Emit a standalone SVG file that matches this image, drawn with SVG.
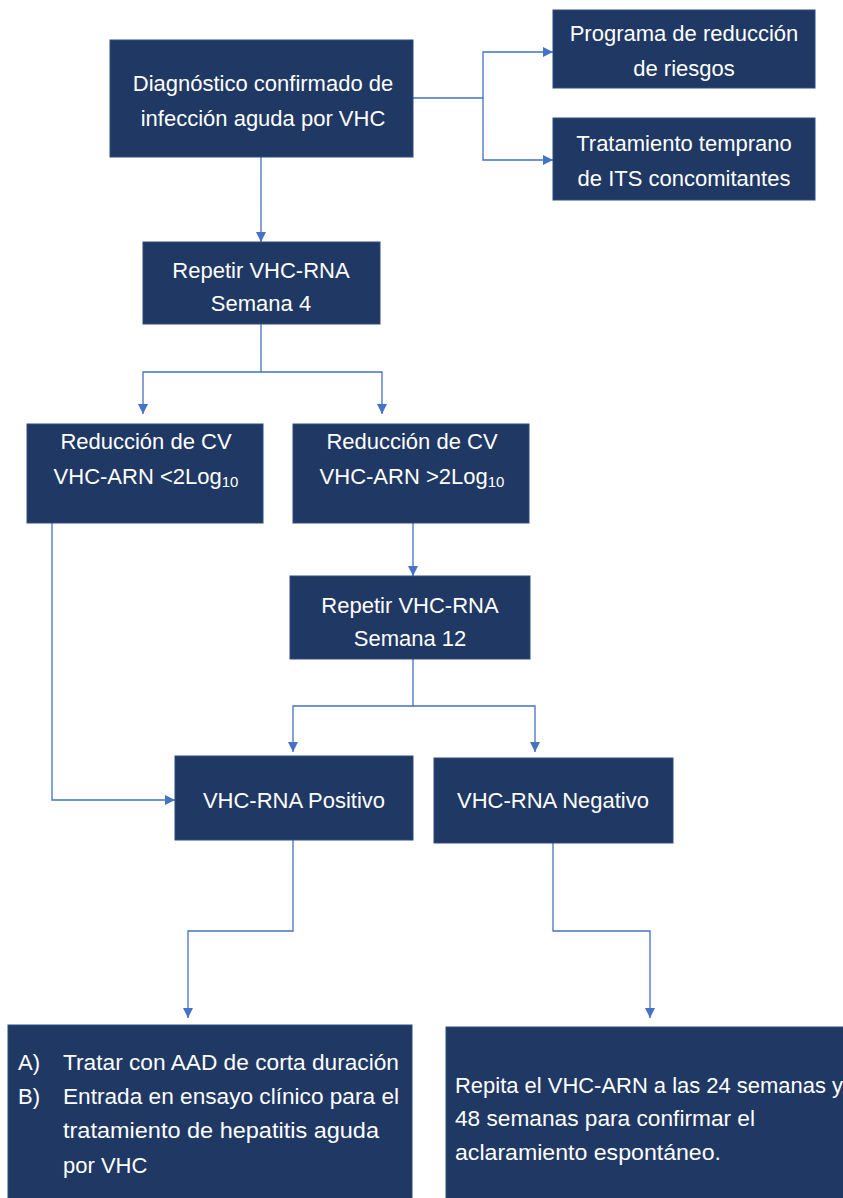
<svg xmlns="http://www.w3.org/2000/svg" width="843" height="1198" viewBox="0 0 843 1198">
<style>
.box{fill:#203864;stroke:#2f4d80;stroke-width:1}
.t{font-family:"Liberation Sans",Arial,sans-serif;font-size:22px;fill:#ffffff}
.c{text-anchor:middle}
.ln{fill:none;stroke:#4472C4;stroke-width:1.3}
</style>
<defs>
<marker id="ah" viewBox="0 0 10 10" refX="10" refY="5" markerWidth="10" markerHeight="10" markerUnits="userSpaceOnUse" orient="auto">
<path d="M0,0 L10,5 L0,10 z" fill="#4472C4"/>
</marker>
</defs>
<rect width="843" height="1198" fill="#ffffff"/>
<g id="connectors">
<path class="ln" d="M413,98 H483 V52 H553" marker-end="url(#ah)"/>
<path class="ln" d="M483,98 V160 H553" marker-end="url(#ah)"/>
<path class="ln" d="M261,157 V242" marker-end="url(#ah)"/>
<path class="ln" d="M261,324 V372 H143 V414" marker-end="url(#ah)"/>
<path class="ln" d="M261,372 H382 V414" marker-end="url(#ah)"/>
<path class="ln" d="M413,523 V576" marker-end="url(#ah)"/>
<path class="ln" d="M413,659 V706 H293 V752" marker-end="url(#ah)"/>
<path class="ln" d="M413,706 H535 V752" marker-end="url(#ah)"/>
<path class="ln" d="M52,523 V800 H175" marker-end="url(#ah)"/>
<path class="ln" d="M293,840 V931 H188 V1018" marker-end="url(#ah)"/>
<path class="ln" d="M553,843 V931 H650 V1018" marker-end="url(#ah)"/>
</g>
<g id="n1">
<rect class="box" x="110" y="40" width="303" height="117"/>
<text class="t c" x="263" y="91">Diagnóstico confirmado de</text>
<text class="t c" x="263" y="126">infección  aguda por VHC</text>
</g>
<g id="n2">
<rect class="box" x="553" y="10" width="262" height="78"/>
<text class="t c" x="684" y="41">Programa de reducción</text>
<text class="t c" x="684" y="76">de riesgos</text>
</g>
<g id="n3">
<rect class="box" x="553" y="118" width="262" height="82"/>
<text class="t c" x="684" y="151">Tratamiento temprano</text>
<text class="t c" x="684" y="186">de ITS concomitantes</text>
</g>
<g id="n4">
<rect class="box" x="143" y="242" width="237" height="82"/>
<text class="t c" x="261" y="278">Repetir VHC-RNA</text>
<text class="t c" x="261" y="311">Semana 4</text>
</g>
<g id="n5">
<rect class="box" x="27" y="424" width="236" height="99"/>
<text class="t c" x="146" y="449">Reducción de CV</text>
<text class="t c" x="146" y="484">VHC-ARN &lt;2Log<tspan font-size="15" dy="3">10</tspan></text>
</g>
<g id="n6">
<rect class="box" x="293" y="424" width="236" height="99"/>
<text class="t c" x="412" y="449">Reducción de CV</text>
<text class="t c" x="412" y="484">VHC-ARN &gt;2Log<tspan font-size="15" dy="3">10</tspan></text>
</g>
<g id="n7">
<rect class="box" x="290" y="576" width="240" height="83"/>
<text class="t c" x="410" y="613">Repetir VHC-RNA</text>
<text class="t c" x="410" y="646">Semana 12</text>
</g>
<g id="n8">
<rect class="box" x="175" y="756" width="238" height="84"/>
<text class="t c" x="294" y="808">VHC-RNA Positivo</text>
</g>
<g id="n9">
<rect class="box" x="434" y="758" width="239" height="85"/>
<text class="t c" x="553" y="808">VHC-RNA Negativo</text>
</g>
<g id="n10">
<rect class="box" x="8" y="1025" width="404" height="180"/>
<text class="t" x="18" y="1070">A)</text>
<text class="t" x="63" y="1070" textLength="336" lengthAdjust="spacingAndGlyphs">Tratar con AAD de corta duración</text>
<text class="t" x="18" y="1104">B)</text>
<text class="t" x="63" y="1104" textLength="336" lengthAdjust="spacingAndGlyphs">Entrada en ensayo clínico para el</text>
<text class="t" x="63" y="1138" textLength="316" lengthAdjust="spacingAndGlyphs">tratamiento de hepatitis aguda</text>
<text class="t" x="63" y="1173">por VHC</text>
</g>
<g id="n11">
<rect class="box" x="446" y="1027" width="400" height="180"/>
<text class="t" x="455" y="1093" textLength="388" lengthAdjust="spacingAndGlyphs">Repita el VHC-ARN a las 24 semanas y</text>
<text class="t" x="455" y="1126" textLength="300" lengthAdjust="spacingAndGlyphs">48 semanas para confirmar el</text>
<text class="t" x="455" y="1160" textLength="266" lengthAdjust="spacingAndGlyphs">aclaramiento espontáneo.</text>
</g>
</svg>
